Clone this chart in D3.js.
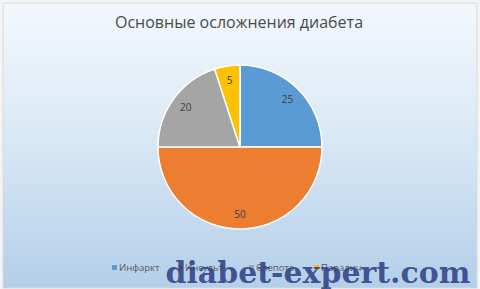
<!DOCTYPE html>
<html><head><meta charset="utf-8">
<script src="https://cdn.jsdelivr.net/npm/d3@7/dist/d3.min.js"></script>
<style>html,body{margin:0;padding:0;overflow:hidden;background:#fff}</style>
</head><body>
<script>
const title = "Основные осложнения диабета";
const categories = ["Инфаркт", "Инсульт", "Слепота", "Паралич"];
const values = [25, 50, 20, 5];
const colors = ["#5b9bd5", "#ed7d31", "#a5a5a5", "#ffc000"];
const watermark = "diabet-expert.com";

const W = 480, H = 289;
const svg = d3.select("body").append("svg").attr("width", W).attr("height", H);
const defs = svg.append("defs");
const g = defs.append("linearGradient").attr("id", "bg").attr("x1", 0).attr("y1", 0).attr("x2", 0).attr("y2", 1);
g.append("stop").attr("offset", "0%").attr("stop-color", "#f3f8fd");
g.append("stop").attr("offset", "45%").attr("stop-color", "#dbe9f6");
g.append("stop").attr("offset", "100%").attr("stop-color", "#b3cfe9");
svg.append("rect").attr("x", 0).attr("y", 0).attr("width", W).attr("height", H).attr("fill", "#f4f4f4");
svg.append("rect").attr("x", 3).attr("y", 3).attr("width", W - 6).attr("height", H - 4).attr("fill", "url(#bg)").attr("stroke", "#d9d9d9").attr("stroke-width", 1);

svg.append("text").attr("x", 239).attr("y", 28).attr("text-anchor", "middle")
  .attr("font-family", "Open Sans, sans-serif").attr("font-size", 16).attr("fill", "#4a4a4a").text(title);

const cx = 240, cy = 147, r = 82;
const pie = d3.pie().sort(null).value(d => d);
const arcs = pie(values);
const arc = d3.arc().innerRadius(0).outerRadius(r);
const labelArc = d3.arc().innerRadius(67).outerRadius(67);
const pg = svg.append("g").attr("transform", `translate(${cx},${cy})`);
pg.selectAll("path").data(arcs).join("path").attr("d", arc)
  .attr("fill", (d, i) => colors[i]).attr("stroke", "#fff").attr("stroke-width", 1.5);
pg.selectAll("text").data(arcs).join("text")
  .attr("transform", d => `translate(${labelArc.centroid(d)})`)
  .attr("text-anchor", "middle").attr("dy", "0.35em")
  .attr("font-family", "Open Sans, sans-serif").attr("font-size", 10).attr("fill", "#404040")
  .text(d => d.data);

const legX = [112, 178, 249, 314];
const lg = svg.append("g");
categories.forEach((c, i) => {
  lg.append("rect").attr("x", legX[i]).attr("y", 265).attr("width", 5).attr("height", 5).attr("fill", colors[i]);
  lg.append("text").attr("x", legX[i] + 7).attr("y", 271).attr("font-family", "Open Sans, sans-serif")
    .attr("font-size", 9.5).attr("fill", "#595959").text(c);
});

svg.append("text").attr("x", 318).attr("y", 283).attr("text-anchor", "middle")
  .attr("font-family", "DejaVu Serif, serif").attr("font-weight", "bold").attr("font-size", 30)
  .attr("fill", "#2c3c82").attr("fill-opacity", 0.85).attr("textLength", 305).attr("lengthAdjust", "spacingAndGlyphs")
  .text(watermark);
</script>
</body></html>
